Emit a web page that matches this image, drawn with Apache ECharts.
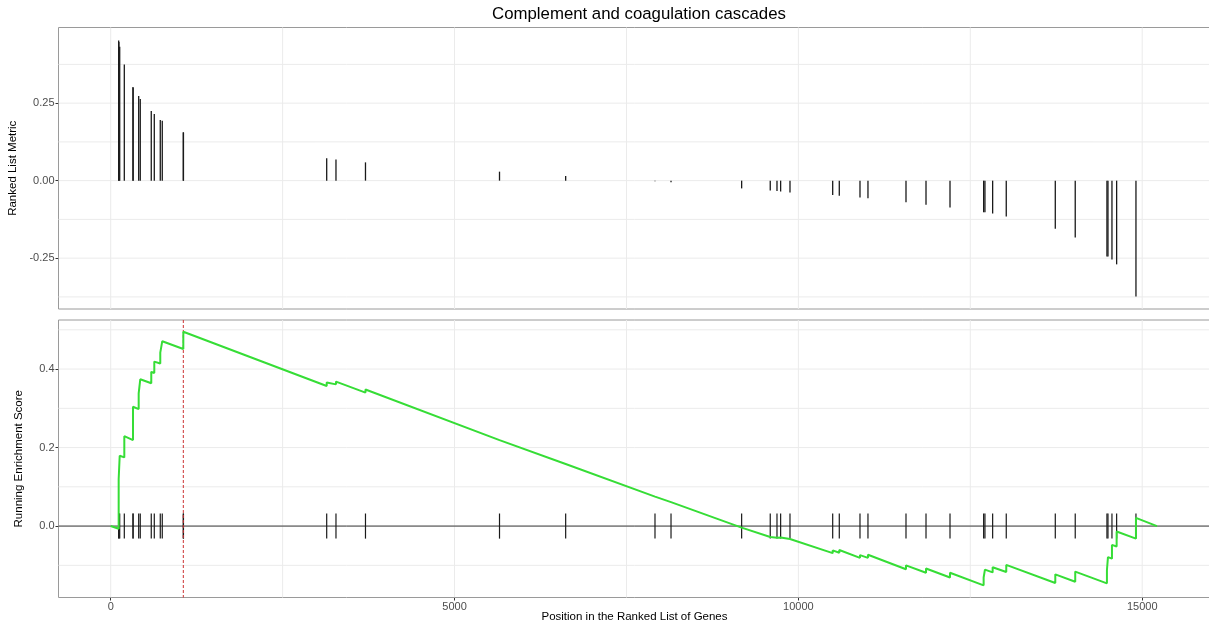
<!DOCTYPE html>
<html>
<head>
<meta charset="utf-8">
<script src="https://cdn.jsdelivr.net/npm/echarts@6/dist/echarts.min.js"></script>
<style>
html,body{margin:0;padding:0;background:#ffffff;}
#chart{width:1209px;height:626px;}
</style>
</head>
<body>
<div id="chart"></div>
<script>
// ---------- data ----------
const titleText = 'Complement and coagulation cascades';
const xTitle = 'Position in the Ranked List of Genes';
const topYTitle = 'Ranked List Metric';
const botYTitle = 'Running Enrichment Score';

// positions of gene-set hits in the ranked list
const hitRank = [116, 119, 131, 198, 324, 326, 407, 430, 590, 634, 721, 750, 1056, 1058,
  3141, 3276, 3705, 5654, 6616, 7915, 8148, 9175, 9591, 9689, 9742, 9878,
  10499, 10595, 10896, 11012, 11565, 11856, 12205, 12694, 12713, 12825, 13023,
  13736, 14026, 14487, 14502, 14560, 14628, 14909];
// ranked list metric of each hit
const hitMetric = [0.452, 0.447, 0.432, 0.375, 0.302, 0.300, 0.273, 0.263, 0.225, 0.215, 0.196, 0.193, 0.156, 0.155,
  0.072, 0.068, 0.059, 0.029, 0.015, -0.002, -0.005, -0.025, -0.032, -0.033, -0.035, -0.038,
  -0.046, -0.049, -0.054, -0.057, -0.070, -0.078, -0.087, -0.102, -0.102, -0.106, -0.116,
  -0.155, -0.183, -0.245, -0.245, -0.254, -0.270, -0.374];

// running enrichment score (vertices of the step line)
const esRank = [0,
  116, 116, 131, 131, 198, 198, 324, 324, 407, 407, 430, 430, 590, 590, 634, 634, 721, 721, 750, 750, 1056, 1056,
  3141, 3141, 3276, 3276, 3705, 3705, 5654, 5654, 6616, 6616, 7915, 8148,
  9175, 9175, 9591, 9591, 9689, 9689, 9742, 9742, 9878, 9878,
  10499, 10499, 10595, 10595, 10896, 10896, 11012, 11012, 11565, 11565, 11856, 11856, 12205, 12205,
  12694, 12694, 12713, 12713, 12825, 12825, 13023, 13023, 13736, 13736, 14026, 14026,
  14487, 14487, 14502, 14502, 14560, 14560, 14628, 14628, 14909, 14909, 15215];
const esScore = [0,
  -0.007, 0.120, 0.119, 0.179, 0.175, 0.229, 0.219, 0.304, 0.298, 0.338, 0.337, 0.374, 0.364, 0.393, 0.390, 0.419, 0.414, 0.442, 0.440, 0.471, 0.451, 0.495,
  0.357, 0.366, 0.361, 0.368, 0.340, 0.348, 0.219, 0.222, 0.158, 0.161, 0.075, 0.061,
  -0.004, -0.001, -0.028, -0.024, -0.030, -0.025, -0.029, -0.024, -0.033, -0.028,
  -0.069, -0.062, -0.068, -0.061, -0.081, -0.074, -0.081, -0.073, -0.110, -0.100, -0.119, -0.108, -0.131, -0.119,
  -0.151, -0.131, -0.132, -0.111, -0.118, -0.105, -0.117, -0.099, -0.145, -0.123, -0.142, -0.116,
  -0.146, -0.112, -0.113, -0.079, -0.083, -0.048, -0.052, -0.014, -0.032, 0.021, 0.000];

const peakRank = 1056;

// axis ticks
const xMajor = [0, 5000, 10000, 15000];
const xMinor = [2500, 7500, 12500];
const topYMajor = [-0.25, 0, 0.25];
const topYMinor = [-0.375, -0.125, 0.125, 0.375];
const botYMajor = [0, 0.2, 0.4];
const botYMinor = [-0.1, 0.1, 0.3, 0.5];

// ---------- layout / style ----------
const X_MIN = -759, X_MAX = 15993;
const TOP_Y = [-0.414, 0.494];
const BOT_Y = [-0.182, 0.525];
const TICK_HALF = 0.032;
const GRID_COLOR = '#ebebeb';
const BORDER_COLOR = '#9a9a9a';
const FONT = '"Liberation Sans", Arial, Helvetica, sans-serif';

const chart = echarts.init(document.getElementById('chart'), null, {renderer: 'canvas'});

function vLineSeries(xi, yi, values, color, width, dash, z) {
  return {
    type: 'custom', xAxisIndex: xi, yAxisIndex: yi, z: z, silent: true, clip: false,
    data: values.map(v => [v, 0]),
    encode: {x: 0, y: 1},
    renderItem: (params, api) => {
      const cs = params.coordSys;
      const p = api.coord([api.value(0), 0]);
      return {type: 'line', shape: {x1: p[0], y1: cs.y, x2: p[0], y2: cs.y + cs.height},
        style: {stroke: color, lineWidth: width, lineDash: dash || null}};
    }
  };
}
function hLineSeries(xi, yi, values, color, width, z) {
  return {
    type: 'custom', xAxisIndex: xi, yAxisIndex: yi, z: z, silent: true, clip: false,
    data: values.map(v => [0, v]),
    encode: {x: 0, y: 1},
    renderItem: (params, api) => {
      const cs = params.coordSys;
      const p = api.coord([0, api.value(1)]);
      return {type: 'line', shape: {x1: cs.x, y1: p[1], x2: cs.x + cs.width, y2: p[1]},
        style: {stroke: color, lineWidth: width}};
    }
  };
}

const axisLabelStyle = {color: '#4d4d4d', fontSize: 11, fontFamily: FONT};
const nameStyle = {color: '#000', fontSize: 11.5, fontFamily: FONT};

const option = {
  animation: false,
  backgroundColor: '#ffffff',
  title: {
    text: titleText, left: 634, top: 1, textAlign: 'center',
    textStyle: {color: '#000', fontSize: 16.8, fontWeight: 'normal', fontFamily: FONT}
  },
  grid: [
    {left: 58.5, top: 27.5, width: 1152, height: 281.5, containLabel: false, outerBoundsMode: 'none',
      show: true, borderColor: BORDER_COLOR, borderWidth: 1, backgroundColor: '#fff'},
    {left: 58.5, top: 320, width: 1152, height: 277.5, containLabel: false, outerBoundsMode: 'none',
      show: true, borderColor: BORDER_COLOR, borderWidth: 1, backgroundColor: '#fff'}
  ],
  xAxis: [
    {type: 'value', gridIndex: 0, min: X_MIN, max: X_MAX, show: false, splitLine: {show: false},
      axisLine: {onZero: false}},
    {type: 'value', gridIndex: 1, min: X_MIN, max: X_MAX, minInterval: 5000, maxInterval: 5000,
      splitLine: {show: false}, axisLine: {show: false, onZero: false},
      axisTick: {show: true, length: 3, lineStyle: {color: '#333'}, customValues: xMajor},
      axisLabel: Object.assign({margin: 4, customValues: xMajor, formatter: v => String(v)}, axisLabelStyle),
      name: xTitle, nameLocation: 'middle', nameGap: 13, nameMoveOverlap: false, nameTextStyle: nameStyle}
  ],
  yAxis: [
    {type: 'value', gridIndex: 0, min: TOP_Y[0], max: TOP_Y[1], minInterval: 0.25, maxInterval: 0.25,
      splitLine: {show: false}, axisLine: {show: false, onZero: false},
      axisTick: {show: true, length: 3, lineStyle: {color: '#333'}, customValues: topYMajor},
      axisLabel: Object.assign({margin: 4, customValues: topYMajor,
        formatter: v => Number(v).toFixed(2)}, axisLabelStyle),
      name: topYTitle, nameLocation: 'middle', nameGap: 34, nameTextStyle: nameStyle},
    {type: 'value', gridIndex: 1, min: BOT_Y[0], max: BOT_Y[1], minInterval: 0.2, maxInterval: 0.2,
      splitLine: {show: false}, axisLine: {show: false, onZero: false},
      axisTick: {show: true, length: 3, lineStyle: {color: '#333'}, customValues: botYMajor},
      axisLabel: Object.assign({margin: 4, customValues: botYMajor,
        formatter: v => Number(v).toFixed(1)}, axisLabelStyle),
      name: botYTitle, nameLocation: 'middle', nameGap: 34, nameTextStyle: nameStyle}
  ],
  series: [
    // grid lines
    vLineSeries(0, 0, xMinor.concat(xMajor), GRID_COLOR, 1, null, 1),
    hLineSeries(0, 0, topYMinor.concat(topYMajor), GRID_COLOR, 1, 1),
    vLineSeries(1, 1, xMinor.concat(xMajor), GRID_COLOR, 1, null, 1),
    hLineSeries(1, 1, botYMinor.concat(botYMajor), GRID_COLOR, 1, 1),
    // ranked list metric bars
    {
      type: 'custom', xAxisIndex: 0, yAxisIndex: 0, z: 3, silent: true,
      data: hitRank.map((r, i) => [r, hitMetric[i]]),
      encode: {x: 0, y: 1},
      renderItem: (params, api) => {
        const p0 = api.coord([api.value(0), 0]);
        const p1 = api.coord([api.value(0), api.value(1)]);
        return {type: 'line', shape: {x1: p0[0], y1: p0[1], x2: p1[0], y2: p1[1]},
          style: {stroke: '#1a1a1a', lineWidth: 1.3}};
      }
    },
    // zero line in the ES panel
    {
      type: 'custom', xAxisIndex: 1, yAxisIndex: 1, z: 3, silent: true,
      data: [[0, 0]],
      encode: {x: 0, y: 1},
      renderItem: (params, api) => {
        const cs = params.coordSys;
        const p = api.coord([0, api.value(1)]);
        return {type: 'line', shape: {x1: cs.x, y1: p[1], x2: cs.x + cs.width, y2: p[1]},
          style: {stroke: '#3a3a3a', lineWidth: 1}};
      }
    },
    // hit ticks
    {
      type: 'custom', xAxisIndex: 1, yAxisIndex: 1, z: 4, silent: true,
      data: hitRank.map(r => [r, 0]),
      encode: {x: 0, y: 1},
      renderItem: (params, api) => {
        const p0 = api.coord([api.value(0), -TICK_HALF]);
        const p1 = api.coord([api.value(0), TICK_HALF]);
        return {type: 'line', shape: {x1: p0[0], y1: p0[1], x2: p1[0], y2: p1[1]},
          style: {stroke: '#1a1a1a', lineWidth: 1.2}};
      }
    },
    // peak marker
    vLineSeries(1, 1, [peakRank], '#cc3333', 1, [3, 2], 5),
    // running enrichment score
    {
      type: 'line', xAxisIndex: 1, yAxisIndex: 1, z: 6, silent: true,
      data: esRank.map((r, i) => [r, esScore[i]]),
      showSymbol: false, symbol: 'none',
      lineStyle: {color: '#36dd36', width: 2},
      itemStyle: {color: '#36dd36'}
    }
  ]
};
chart.setOption(option);
</script>
</body>
</html>
